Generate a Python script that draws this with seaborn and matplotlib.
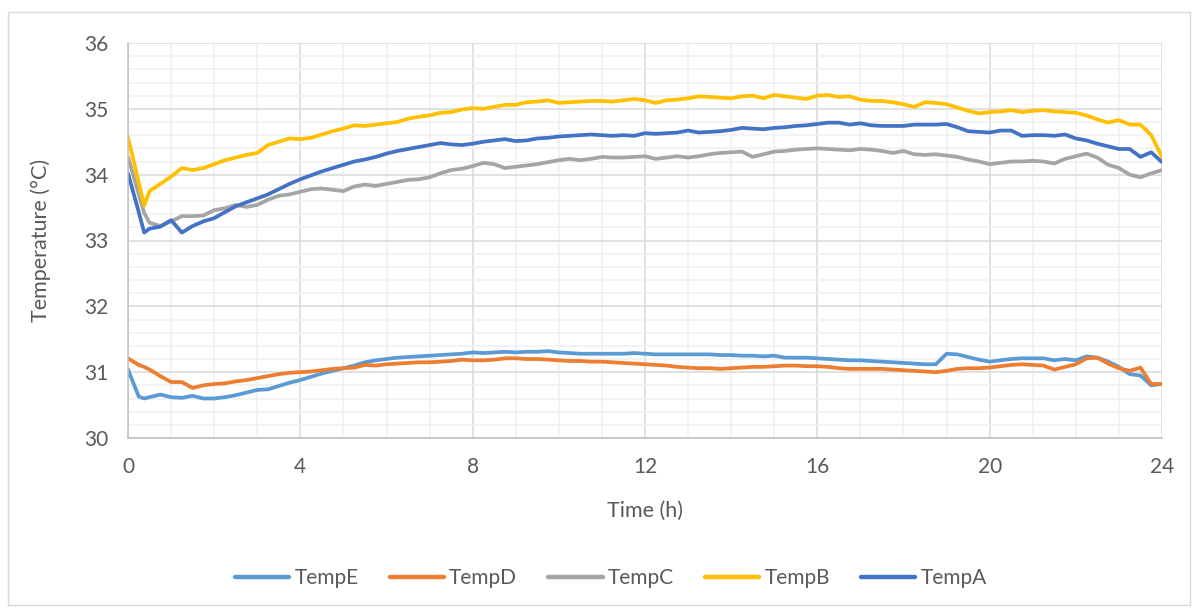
import numpy as np
import pandas as pd
import matplotlib
matplotlib.use("Agg")
import matplotlib.pyplot as plt
import seaborn as sns
from matplotlib.ticker import MultipleLocator
from matplotlib.patches import Rectangle

# logger sampling every 15 minutes, 0 .. 24 h, plus one extra reading at 0.375 h
time_h = np.insert(np.arange(0, 24.01, 0.25), 2, 0.375)

temp_e = [31.04, 30.63, 30.60, 30.62, 30.66, 30.62, 30.61, 30.64, 30.60,
          30.60, 30.62, 30.65, 30.69, 30.73, 30.74, 30.79, 30.84,
          30.88, 30.93, 30.98, 31.02, 31.06, 31.10, 31.15, 31.18,
          31.20, 31.22, 31.23, 31.24, 31.25, 31.26, 31.27, 31.28,
          31.30, 31.29, 31.30, 31.31, 31.30, 31.31, 31.31, 31.32,
          31.30, 31.29, 31.28, 31.28, 31.28, 31.28, 31.28, 31.29,
          31.28, 31.27, 31.27, 31.27, 31.27, 31.27, 31.27, 31.26,
          31.26, 31.25, 31.25, 31.24, 31.25, 31.22, 31.22, 31.22,
          31.21, 31.20, 31.19, 31.18, 31.18, 31.17, 31.16, 31.15,
          31.14, 31.13, 31.12, 31.12, 31.28, 31.27, 31.23, 31.19,
          31.16, 31.18, 31.20, 31.21, 31.21, 31.21, 31.18, 31.20,
          31.18, 31.24, 31.22, 31.16, 31.08, 30.97, 30.95, 30.80,
          30.82]

temp_d = [31.21, 31.11, 31.08, 31.04, 30.94, 30.85, 30.85, 30.76, 30.80,
          30.82, 30.83, 30.86, 30.88, 30.91, 30.94, 30.97, 30.99,
          31.00, 31.01, 31.03, 31.05, 31.06, 31.07, 31.11, 31.10,
          31.12, 31.13, 31.14, 31.15, 31.15, 31.16, 31.17, 31.19,
          31.18, 31.18, 31.19, 31.21, 31.21, 31.20, 31.20, 31.19,
          31.18, 31.17, 31.17, 31.16, 31.16, 31.15, 31.14, 31.13,
          31.12, 31.11, 31.10, 31.08, 31.07, 31.06, 31.06, 31.05,
          31.06, 31.07, 31.08, 31.08, 31.09, 31.10, 31.10, 31.09,
          31.09, 31.08, 31.06, 31.05, 31.05, 31.05, 31.05, 31.04,
          31.03, 31.02, 31.01, 31.00, 31.02, 31.05, 31.06, 31.06,
          31.07, 31.09, 31.11, 31.12, 31.11, 31.10, 31.04, 31.08,
          31.12, 31.21, 31.22, 31.13, 31.06, 31.02, 31.07, 30.82,
          30.82]

temp_c = [34.27, 33.70, 33.42, 33.27, 33.22, 33.29, 33.37, 33.37, 33.38,
          33.46, 33.49, 33.54, 33.51, 33.54, 33.62, 33.68, 33.70,
          33.74, 33.78, 33.79, 33.77, 33.75, 33.82, 33.85, 33.83,
          33.86, 33.89, 33.92, 33.93, 33.96, 34.02, 34.07, 34.09,
          34.13, 34.18, 34.16, 34.10, 34.12, 34.14, 34.16, 34.19,
          34.22, 34.24, 34.22, 34.24, 34.27, 34.26, 34.26, 34.27,
          34.28, 34.24, 34.26, 34.28, 34.26, 34.28, 34.31, 34.33,
          34.34, 34.35, 34.27, 34.31, 34.35, 34.36, 34.38, 34.39,
          34.40, 34.39, 34.38, 34.37, 34.39, 34.38, 34.36, 34.33,
          34.36, 34.31, 34.30, 34.31, 34.29, 34.27, 34.23, 34.20,
          34.16, 34.18, 34.20, 34.20, 34.21, 34.20, 34.17, 34.24,
          34.28, 34.32, 34.26, 34.15, 34.10, 34.00, 33.96, 34.02,
          34.07]

temp_b = [34.57, 33.88, 33.53, 33.75, 33.86, 33.97, 34.10, 34.07, 34.10,
          34.16, 34.22, 34.26, 34.30, 34.33, 34.45, 34.50, 34.55,
          34.54, 34.56, 34.61, 34.66, 34.70, 34.75, 34.74, 34.76,
          34.78, 34.80, 34.85, 34.88, 34.90, 34.94, 34.95, 34.99,
          35.01, 35.00, 35.03, 35.06, 35.06, 35.10, 35.11, 35.13,
          35.09, 35.10, 35.11, 35.12, 35.12, 35.11, 35.13, 35.15,
          35.13, 35.09, 35.13, 35.14, 35.16, 35.19, 35.18, 35.17,
          35.16, 35.19, 35.20, 35.16, 35.21, 35.19, 35.17, 35.15,
          35.20, 35.21, 35.18, 35.19, 35.14, 35.12, 35.12, 35.10,
          35.07, 35.03, 35.10, 35.09, 35.07, 35.02, 34.97, 34.93,
          34.95, 34.96, 34.98, 34.95, 34.97, 34.98, 34.96, 34.95,
          34.94, 34.90, 34.84, 34.79, 34.83, 34.76, 34.76, 34.60,
          34.27]

temp_a = [34.02, 33.43, 33.12, 33.18, 33.21, 33.31, 33.12, 33.22, 33.29,
          33.34, 33.43, 33.52, 33.58, 33.64, 33.70, 33.78, 33.86,
          33.93, 33.99, 34.05, 34.10, 34.15, 34.20, 34.23, 34.27,
          34.32, 34.36, 34.39, 34.42, 34.45, 34.48, 34.46, 34.45,
          34.47, 34.50, 34.52, 34.54, 34.51, 34.52, 34.55, 34.56,
          34.58, 34.59, 34.60, 34.61, 34.60, 34.59, 34.60, 34.59,
          34.63, 34.62, 34.63, 34.64, 34.67, 34.64, 34.65, 34.66,
          34.68, 34.71, 34.70, 34.69, 34.71, 34.72, 34.74, 34.75,
          34.77, 34.79, 34.79, 34.76, 34.78, 34.75, 34.74, 34.74,
          34.74, 34.76, 34.76, 34.76, 34.77, 34.72, 34.66, 34.65,
          34.64, 34.67, 34.67, 34.59, 34.60, 34.60, 34.59, 34.61,
          34.55, 34.52, 34.47, 34.43, 34.39, 34.39, 34.27, 34.34,
          34.19]

series_names = ["TempE", "TempD", "TempC", "TempB", "TempA"]
series_values = [temp_e, temp_d, temp_c, temp_b, temp_a]
series_colors = ["#5B9BD5", "#ED7D31", "#A5A5A5", "#FFC000", "#4472C4"]

x_ticks = [0, 4, 8, 12, 16, 20, 24]
y_ticks = [30, 31, 32, 33, 34, 35, 36]

df = pd.concat(
    [pd.DataFrame({"Time (h)": time_h, "Temperature": vals, "Sensor": name})
     for name, vals in zip(series_names, series_values)],
    ignore_index=True)

sns.set_style("white")
plt.rcParams["font.family"] = ["Lato", "DejaVu Sans"]

W, H = 1198, 612
fig = plt.figure(figsize=(W / 100, H / 100), dpi=100)
ax = fig.add_axes([128 / W, 1 - 438 / H, (1162 - 128) / W, (438 - 43) / H])

sns.lineplot(data=df, x="Time (h)", y="Temperature", hue="Sensor",
             hue_order=series_names, palette=dict(zip(series_names, series_colors)),
             estimator=None, sort=False, linewidth=2.7, ax=ax, legend=False,
             solid_capstyle="round", solid_joinstyle="round")

ax.set_xlim(0, 24)
ax.set_ylim(30, 36)
ax.set_xticks(x_ticks)
ax.set_yticks(y_ticks)
ax.xaxis.set_minor_locator(MultipleLocator(1))
ax.yaxis.set_minor_locator(MultipleLocator(0.2))
ax.grid(True, which="major", color="#D9D9D9", linewidth=1.1)
ax.grid(True, which="minor", color="#F0F0F0", linewidth=1.1)
ax.set_axisbelow(True)
for s in ["top", "right"]:
    ax.spines[s].set_visible(False)
for s in ["left", "bottom"]:
    ax.spines[s].set_color("#BFBFBF")
    ax.spines[s].set_linewidth(1.1)
ax.tick_params(axis="both", which="both", length=0, labelsize=15,
               labelcolor="#595959", pad=14)

ax.set_xlabel("Time (h)", fontsize=15.5, color="#595959", labelpad=17)
ax.set_ylabel("Temperature (°C)", fontsize=15.5, color="#595959", labelpad=24)

handles = [plt.Line2D([], [], color=c, linewidth=3.2, solid_capstyle="round")
           for c in series_colors]
fig.legend(handles, series_names, loc="center", bbox_to_anchor=(611 / W, 1 - 578 / H),
           ncol=5, frameon=False, fontsize=15, handlelength=2.6,
           handletextpad=0.25, columnspacing=1.5, labelcolor="#595959")

fig.patches.append(Rectangle((8 / W, 1 - 605 / H), (1190 - 8) / W, (605 - 12) / H,
                             transform=fig.transFigure, fill=False,
                             edgecolor="#D9D9D9", linewidth=1))

fig.savefig("out.png", dpi=100, facecolor="white")
